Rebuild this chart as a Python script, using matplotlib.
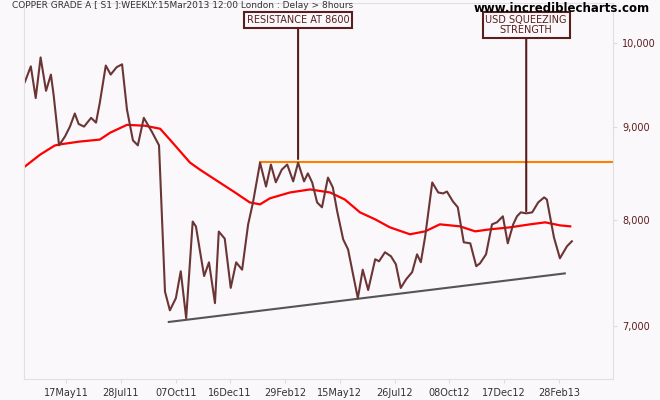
import matplotlib
matplotlib.use('Agg')
import matplotlib.pyplot as plt
from matplotlib.ticker import FixedLocator, NullLocator

# weekly close, x in weeks since start of chart
week = [0, 1.1, 2.0, 2.9, 3.9, 4.8, 5.3, 6.3, 7.4, 8.3, 9.2, 9.9, 10.9, 12.2, 13.1,
        13.8, 14.9, 15.8, 16.9, 17.9, 18.8, 19.9, 20.8, 21.9, 23.4, 24.7, 25.8, 26.7,
        27.8, 28.7, 29.7, 30.9, 31.5, 33.0, 33.9, 35.0, 35.7, 36.8, 37.9, 38.9, 40.0,
        41.1, 42.0, 43.3, 44.4, 45.3, 46.2, 47.3, 48.3, 49.4, 50.3, 51.4, 52.1, 52.9,
        53.8, 54.7, 55.8, 56.7, 57.5, 58.6, 59.5, 60.6, 61.3, 62.2, 63.2, 64.5, 65.2,
        66.3, 67.4, 68.3, 69.2, 70.2, 71.3, 72.2, 72.9, 73.7, 75.0, 76.1, 77.0, 77.7,
        78.8, 79.7, 80.8, 82.0, 83.1, 83.8, 84.9, 86.0, 86.9, 88.0, 88.9, 89.9, 90.6,
        91.3, 92.3, 93.4, 94.5, 95.6, 96.1, 97.4, 98.5, 99.8, 100.7]
price = [9520, 9710, 9330, 9820, 9415, 9610, 9365, 8790, 8890, 9000, 9150, 9030, 9000,
         9100, 9045, 9275, 9720, 9610, 9700, 9735, 9195, 8845, 8790, 9100, 8940, 8790,
         7310, 7140, 7250, 7500, 7070, 7985, 7935, 7455, 7585, 7205, 7885, 7815, 7345,
         7585, 7515, 7955, 8180, 8600, 8345, 8580, 8390, 8525, 8580, 8400, 8600, 8400,
         8485, 8388, 8180, 8130, 8440, 8335, 8088, 7808, 7710, 7425, 7250, 7515, 7325,
         7615, 7595, 7682, 7643, 7567, 7344, 7425, 7492, 7662, 7586, 7838, 8388, 8283,
         8273, 8293, 8190, 8130, 7779, 7769, 7548, 7576, 7662, 7957, 7977, 8038, 7769,
         7957, 8038, 8078, 8068, 8078, 8180, 8232, 8210, 7828, 7624, 7740, 7789]

# moving average
ma_week = [0, 2.8, 5.5, 6.4, 10.1, 13.8, 15.7, 18.8, 22.1, 24.9, 26.7, 30.4, 32.2, 35.0,
           38.7, 41.4, 43.3, 45.1, 48.8, 52.5, 56.2, 58.9, 61.7, 64.5, 67.2, 70.9, 73.7,
           76.4, 80.1, 82.9, 85.6, 89.3, 93.0, 95.8, 98.5, 100.4]
ma = [8558, 8687, 8788, 8800, 8832, 8854, 8931, 9020, 9010, 8976, 8854, 8601, 8526, 8420,
      8283, 8180, 8160, 8222, 8283, 8315, 8283, 8210, 8078, 8007, 7927, 7858, 7887, 7957,
      7937, 7887, 7907, 7927, 7957, 7977, 7947, 7937]

resist_week = [43.3, 108.3]
resist = [8610, 8610]
trend_week = [26.5, 99.4]
trend = [7036, 7480]

tick_weeks = [7.6, 17.7, 27.8, 37.8, 47.9, 58.0, 68.1, 78.1, 88.2, 98.3]
tick_labels = ['17May11', '28Jul11', '07Oct11', '16Dec11', '29Feb12', '15May12',
               '26Jul12', '08Oct12', '17Dec12', '28Feb13']
y_ticks = [7000, 8000, 9000, 10000]

BG = '#faf8fa'
BROWN = '#6b3535'
TXT = '#5a1e1e'

fig = plt.figure(figsize=(6.6, 4), dpi=100)
fig.patch.set_facecolor(BG)
ax = fig.add_axes([0.036, 0.0525, 0.893, 0.94])
ax.set_facecolor(BG)

ax.plot(ma_week, ma, color='#ff0000', lw=1.6)
ax.plot(resist_week, resist, color='#ff8000', lw=1.5)
ax.plot(trend_week, trend, color='#555555', lw=1.5)
ax.plot(week, price, color=BROWN, lw=1.5)

ax.set_yscale('log')
ax.set_xlim(-0.2, 108.3)
ax.set_ylim(6548, 10517)
ax.yaxis.set_major_locator(FixedLocator(y_ticks))
ax.yaxis.set_minor_locator(NullLocator())
ax.set_yticklabels([f'{v:,}' for v in y_ticks])
ax.yaxis.tick_right()
ax.set_xticks(tick_weeks)
ax.set_xticklabels(tick_labels)
ax.tick_params(axis='both', labelsize=7, colors='#dddddd', labelcolor=TXT, length=3)
ax.tick_params(axis='x', labelcolor='#333333')
for s in ax.spines.values():
    s.set_color('#e0e0e0')

# annotations
ax.annotate('RESISTANCE AT 8600', xy=(50.3, 8640), xytext=(50.3, 10290),
            ha='center', va='center', fontsize=7, color=TXT,
            bbox=dict(boxstyle='square,pad=0.3', fc=BG, ec=TXT, lw=1.5),
            arrowprops=dict(arrowstyle='-', color=TXT, lw=1.5, shrinkA=0, shrinkB=0))
ax.annotate('USD SQUEEZING\nSTRENGTH', xy=(92.3, 8090), xytext=(92.3, 10230),
            ha='center', va='center', fontsize=7, color=TXT, linespacing=1.1,
            bbox=dict(boxstyle='square,pad=0.3', fc=BG, ec=TXT, lw=1.5),
            arrowprops=dict(arrowstyle='-', color=TXT, lw=1.5, shrinkA=0, shrinkB=0))

fig.text(0.018, 0.985, 'COPPER GRADE A [ S1 ]:WEEKLY:15Mar2013 12:00 London : Delay > 8hours',
         fontsize=6.5, color='#333333', va='center')
fig.text(0.985, 0.98, 'www.incrediblecharts.com', fontsize=8.5, fontweight='bold',
         color='black', ha='right', va='center')

fig.savefig('out.png', dpi=100, facecolor=BG)
